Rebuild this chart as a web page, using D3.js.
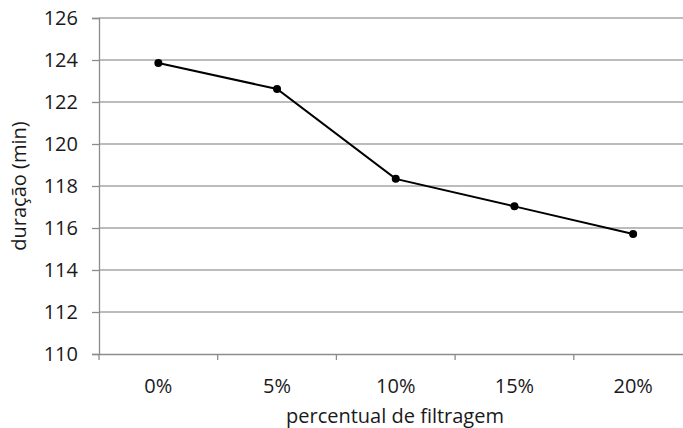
<!DOCTYPE html>
<html>
<head>
<meta charset="utf-8">
<script src="https://cdn.jsdelivr.net/npm/d3@7"></script>
<style>
  body { margin: 0; background: #fff; }
  svg { display: block; font-family: "Open Sans", sans-serif; }
</style>
</head>
<body>
<div id="chart-area"></div>
<script>
var categories = ['0%', '5%', '10%', '15%', '20%'];
var values = [123.86, 122.62, 118.34, 117.03, 115.71];
var yTicks = [110, 112, 114, 116, 118, 120, 122, 124, 126];

var data = categories.map(function(c, i) {
  return { name: c, value: values[i] };
});

var svg = d3.select('#chart-area').append('svg')
  .attr('width', 683)
  .attr('height', 428);

var plotLeft = 99, plotTop = 18, plotRight = 692.5, plotBottom = 354;

var x = d3.scaleBand()
  .domain(categories)
  .range([plotLeft, plotRight]);

var y = d3.scaleLinear()
  .domain([110, 126])
  .range([plotBottom, plotTop]);

// gridlines
svg.selectAll('line.grid')
  .data(yTicks.slice(1))
  .enter()
  .append('line')
    .attr('class', 'grid')
    .attr('x1', plotLeft)
    .attr('x2', plotRight)
    .attr('y1', function(d) { return y(d); })
    .attr('y2', function(d) { return y(d); })
    .attr('stroke', '#a6a6a6')
    .attr('stroke-width', 1.3);

// y axis
var yAxis = svg.append('g')
  .attr('transform', 'translate(' + plotLeft + ',0)')
  .call(d3.axisLeft(y).tickValues(yTicks).tickSize(7).tickPadding(14).tickFormat(d3.format('d')));
yAxis.select('.domain').attr('stroke', '#8c8c8c').attr('stroke-width', 1.3);
yAxis.selectAll('.tick line').attr('stroke', '#8c8c8c').attr('stroke-width', 1.3);
yAxis.selectAll('.tick text')
  .attr('font-size', 20)
  .attr('fill', '#1a1a1a')
  .attr('font-family', '"Open Sans", sans-serif');

// x axis
var xAxis = svg.append('g')
  .attr('transform', 'translate(0,' + plotBottom + ')')
  .call(d3.axisBottom(x).tickSize(0).tickPadding(25));
xAxis.select('.domain').attr('stroke', '#8c8c8c').attr('stroke-width', 1.3);
xAxis.selectAll('.tick text')
  .attr('font-size', 20)
  .attr('fill', '#1a1a1a')
  .attr('font-family', '"Open Sans", sans-serif');

// category boundary ticks
svg.selectAll('line.xtick')
  .data(categories)
  .enter()
  .append('line')
    .attr('class', 'xtick')
    .attr('x1', function(d) { return x(d); })
    .attr('x2', function(d) { return x(d); })
    .attr('y1', plotBottom)
    .attr('y2', plotBottom + 6)
    .attr('stroke', '#8c8c8c')
    .attr('stroke-width', 1.3);

// line + markers
var line = d3.line()
  .x(function(d) { return x(d.name) + x.bandwidth() / 2; })
  .y(function(d) { return y(d.value); });

svg.append('path')
  .datum(data)
  .attr('d', line)
  .attr('fill', 'none')
  .attr('stroke', '#000')
  .attr('stroke-width', 2);

svg.selectAll('circle')
  .data(data)
  .enter()
  .append('circle')
    .attr('cx', function(d) { return x(d.name) + x.bandwidth() / 2; })
    .attr('cy', function(d) { return y(d.value); })
    .attr('r', 4)
    .attr('fill', '#000');

// titles
svg.append('text')
  .attr('x', 395)
  .attr('y', 423)
  .attr('text-anchor', 'middle')
  .attr('font-size', 20)
  .attr('fill', '#1a1a1a')
  .text('percentual de filtragem');

svg.append('text')
  .attr('transform', 'translate(26,186) rotate(-90)')
  .attr('text-anchor', 'middle')
  .attr('font-size', 20)
  .attr('fill', '#1a1a1a')
  .text('duração (min)');
</script>
</body>
</html>
